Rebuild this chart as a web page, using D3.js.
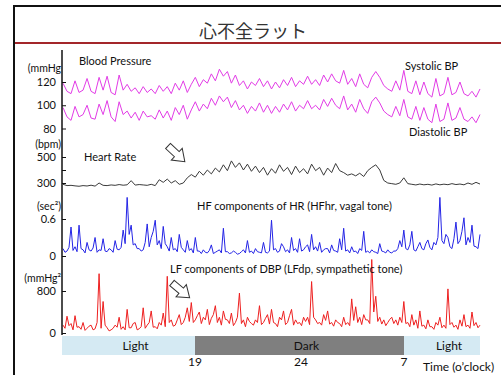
<!DOCTYPE html>
<html>
<head>
<meta charset="utf-8">
<script src="https://cdn.jsdelivr.net/npm/d3@7"></script>
<style>
  body { margin: 0; background: #fff; }
  text { font-family: Lato, "Open Sans", sans-serif; fill: #111; }
</style>
</head>
<body>
<svg id="chart" width="501" height="375"></svg>
<script>
// values; BP and HR one sample every ~4 px, HF and LF every ~2 px
var systolic = [119,112,110,121,111,113,123,112,110,124,113,125,111,109,126,113,118,112,115,110,116,111,114,110,117,112,116,110,119,113,121,111,
  118,124,116,122,119,127,121,131,125,129,119,126,117,121,114,120,117,123,116,121,114,120,115,122,117,124,116,121,118,125,118,122,117,126,120,127,121,119,130,118,123,116,127,118,115,124,129,124,117,114,112,121,113,
  130,112,110,121,109,120,110,107,123,108,110,124,109,111,120,110,108,112,107,114];
var diastolic = [98,90,87,99,90,92,100,89,88,101,92,104,90,86,103,92,95,89,94,87,95,90,91,88,96,89,95,87,98,92,100,88,
  96,103,95,101,97,106,100,108,103,107,98,104,96,100,93,99,95,102,94,100,93,99,94,101,96,103,95,100,97,104,97,100,96,105,99,106,100,97,108,96,101,94,105,97,93,103,107,102,95,92,90,99,91,
  105,90,88,99,87,98,88,85,101,86,88,102,87,89,98,88,86,90,85,92];
var heartRate = [290,280,282,278,275,280,277,283,276,300,282,280,285,282,288,283,286,318,284,288,285,282,290,280,325,305,330,300,318,290,300,340,
  365,345,390,360,400,370,415,385,440,395,470,420,455,400,445,390,430,380,420,360,410,375,440,390,420,365,430,380,410,370,445,395,420,360,415,380,450,395,380,360,370,355,375,350,395,420,440,400,320,300,295,290,300,
  340,295,290,285,292,286,290,284,293,286,291,287,295,288,292,286,300,290,305,292];
var hfHr = [0.12,0.06,0.08,0.14,0.47,0.09,0.15,0.07,0.50,0.12,0.10,0.05,0.22,0.10,0.08,0.13,0.30,0.06,0.10,0.09,
  0.28,0.08,0.07,0.12,0.10,0.06,0.25,0.11,0.10,0.14,0.42,0.20,0.95,0.35,0.50,0.18,0.20,0.12,0.12,0.08,
  0.10,0.22,0.52,0.15,0.30,0.40,0.58,0.18,0.25,0.12,0.48,0.20,0.15,0.08,0.30,0.10,0.12,0.07,0.35,0.14,
  0.10,0.06,0.25,0.09,
  0.12,0.05,0.30,0.08,0.08,0.04,0.10,0.06,0.05,0.09,0.18,0.04,0.06,0.08,0.10,0.05,0.45,0.07,0.07,0.04,
  0.05,0.08,0.06,0.03,0.04,0.07,0.10,0.05,0.25,0.06,0.08,0.04,0.12,0.07,0.06,0.05,0.22,0.06,0.05,0.08,
  0.58,0.10,0.12,0.06,0.08,0.20,0.15,0.07,0.10,0.05,0.30,0.09,0.12,0.06,0.28,0.08,0.10,0.15,0.18,0.07,
  0.35,0.10,0.15,0.08,0.22,0.06,0.10,0.12,0.12,0.05,0.18,0.09,0.08,0.06,0.28,0.10,0.45,0.08,0.10,0.05,
  0.15,0.07,0.08,0.04,0.12,0.09,0.40,0.06,0.08,0.05,0.10,0.07,0.06,0.04,0.20,0.08,0.07,0.05,0.10,0.06,
  0.05,0.08,0.08,0.12,0.25,0.15,
  0.42,0.12,0.10,0.18,0.40,0.10,0.08,0.15,0.22,0.12,0.10,0.20,0.26,0.14,0.10,0.22,0.18,0.30,0.95,0.25,
  0.20,0.35,0.30,0.15,0.12,0.28,0.55,0.20,0.25,0.40,0.62,0.18,0.30,0.22,0.50,0.16,0.15,0.12,0.35];
var lfDp = [150,90,320,140,180,60,330,110,120,70,200,50,90,130,150,60,80,200,1130,90,
  600,150,100,40,60,90,150,110,300,70,120,60,450,100,100,180,200,60,80,120,
  480,90,150,200,420,110,120,80,200,150,380,120,1080,200,250,130,150,250,350,160,
  200,300,480,220,
  580,200,250,330,400,180,300,250,450,160,280,350,520,200,300,150,420,260,250,180,
  380,140,200,300,760,180,250,120,300,220,180,150,250,200,520,160,200,280,350,170,
  450,200,180,120,300,250,420,160,200,330,450,150,250,180,200,140,300,220,300,160,
  980,300,250,180,200,150,350,240,420,170,200,130,250,200,180,120,300,160,200,140,
  650,240,500,200,300,160,350,250,250,180,1400,400,700,220,300,170,250,140,200,260,
  300,180,250,150,300,200,
  600,180,200,120,350,150,250,90,420,130,150,80,250,120,120,70,200,150,300,100,
  150,90,840,160,200,110,150,70,250,130,350,120,150,90,400,140,200,100,150];

var bpTicks = [80, 100, 120];
var hrTicks = [300, 400, 500];
var hfTicks = [0, 0.6];
var lfTicks = [0, 800];

// light / dark phases, in hours from the start of the day (31 = 7 o'clock next day)
var phaseLabels = ["Light", "Dark", "Light"];
var phaseBounds = [11.3, 19, 31, 35.5];
var hourTicks = [19, 24, 31];
var hourTickLabels = ["19", "24", "7"];

var svg = d3.select("#chart");

// frame + title
svg.append("rect")
    .attr("x", 14).attr("y", 6)
    .attr("width", 520).attr("height", 400)
    .attr("fill", "#fff")
    .attr("stroke", "#111")
    .attr("stroke-width", 2);

svg.append("text")
    .attr("x", 253).attr("y", 38)
    .attr("text-anchor", "middle")
    .style("font-family", "'Noto Sans CJK JP', sans-serif")
    .style("font-size", "18px")
    .style("fill", "#333")
    .text("心不全ラット");

svg.append("line")
    .attr("x1", 15).attr("x2", 501)
    .attr("y1", 43).attr("y2", 43)
    .attr("stroke", "#a3262a")
    .attr("stroke-width", 2);

// the hour labels of the original are not evenly spaced, so piecewise
var hour = d3.scaleLinear()
    .domain([phaseBounds[0], 19, 24, 31, phaseBounds[3]])
    .range([62, 195, 301, 404, 480]);

var yBp = d3.scaleLinear().domain([80, 120]).range([128.5, 82]);
var yHr = d3.scaleLinear().domain([300, 500]).range([183, 157]);
var yHf = d3.scaleLinear().domain([0, 0.6]).range([256, 219]);
var yLf = d3.scaleLinear().domain([0, 800]).range([333, 291]);

function trace(values, y, color) {
  var x = d3.scaleLinear()              // sample index -> pixel
      .domain([0, values.length - 1])
      .range([63, 480]);
  var line = d3.line()
      .x(function(d, i) { return x(i); })
      .y(function(d) { return y(d); });
  svg.append("path")
      .datum(values)
      .attr("d", line)
      .attr("fill", "none")
      .attr("stroke", color)
      .attr("stroke-width", 1)
      .attr("stroke-linejoin", "round");
}

trace(systolic, yBp, "#e23be6");
trace(diastolic, yBp, "#e23be6");
trace(heartRate, yHr, "#3a3a3a");
trace(hfHr, yHf, "#2424e6");
trace(lfDp, yLf, "#ee2020");

// y axes, ticks pointing inward
function yAxis(y, ticks, fmt) {
  var g = svg.append("g")
      .attr("transform", "translate(62,0)")
      .call(d3.axisLeft(y).tickValues(ticks).tickSize(-4).tickSizeOuter(0).tickPadding(6).tickFormat(fmt));
  g.select(".domain").remove();
  g.selectAll("text").style("font-size", "11px").style("font-family", "Lato, sans-serif");
  g.selectAll("line").attr("stroke", "#111");
}
yAxis(yBp, bpTicks, function(d) { return d; });
yAxis(yHr, hrTicks, function(d) { return d === 400 ? "" : d; });
yAxis(yHf, hfTicks, function(d) { return d; });
yAxis(yLf, lfTicks, function(d) { return d; });

svg.append("line")
    .attr("x1", 62).attr("x2", 62)
    .attr("y1", 50).attr("y2", 335)
    .attr("stroke", "#111")
    .attr("stroke-width", 1.5);

// units
var units = [["(mmHg", 72], ["(bpm)", 148], ["(sec²)", 210], ["(mmHg²", 282]];
units.forEach(function(u) {
  svg.append("text")
      .attr("x", 61).attr("y", u[1])
      .attr("text-anchor", "end")
      .style("font-size", "10.5px")
      .text(u[0]);
});

// trace labels
var notes = [
  ["Blood Pressure", 79, 65],
  ["Systolic BP", 405, 70],
  ["Diastolic BP", 409, 136],
  ["Heart Rate", 84, 161],
  ["HF components of HR (HFhr, vagal tone)", 197, 210],
  ["LF components of DBP (LFdp, sympathetic tone)", 170, 273]
];
notes.forEach(function(n) {
  svg.append("text")
      .attr("x", n[1]).attr("y", n[2])
      .style("font-size", "11px")
      .text(n[0]);
});

// outline arrows
var arrowShape = "M0,-3.5L12,-3.5L12,-8L23,0L12,8L12,3.5L0,3.5Z";
[[168, 146, 43], [172, 283, 40]].forEach(function(a) {
  svg.append("path")
      .attr("d", arrowShape)
      .attr("transform", "translate(" + a[0] + "," + a[1] + ") rotate(" + a[2] + ")")
      .attr("fill", "#fff")
      .attr("stroke", "#333")
      .attr("stroke-width", 1);
});

// light / dark bar
phaseLabels.forEach(function(p, i) {
  var x0 = hour(phaseBounds[i]), x1 = hour(phaseBounds[i + 1]);
  svg.append("rect")
      .attr("x", x0).attr("y", 336)
      .attr("width", x1 - x0).attr("height", 19)
      .attr("fill", p === "Dark" ? "#7f7f7f" : "#d5eaf3");
  svg.append("text")
      .attr("x", (x0 + x1) / 2 + 7).attr("y", 350)
      .attr("text-anchor", "middle")
      .style("font-size", "12px")
      .text(p);
});

hourTicks.forEach(function(h, i) {
  svg.append("text")
      .attr("x", hour(h)).attr("y", 366)
      .attr("text-anchor", "middle")
      .style("font-size", "12px")
      .text(hourTickLabels[i]);
});

svg.append("text")
    .attr("x", 423).attr("y", 371)
    .style("font-size", "12px")
    .text("Time (o’clock)");
</script>
</body>
</html>
